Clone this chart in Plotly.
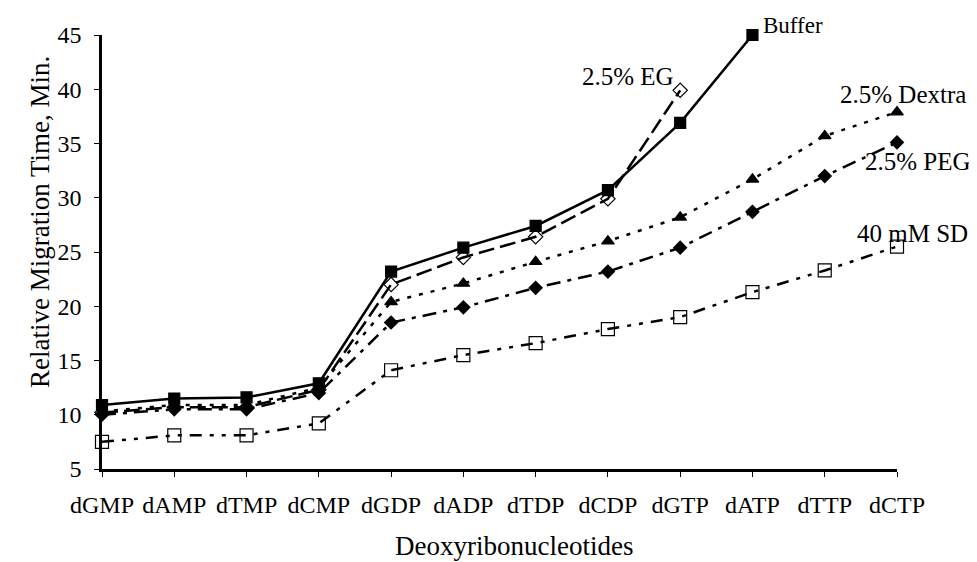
import plotly.graph_objects as go

categories = ["dGMP", "dAMP", "dTMP", "dCMP", "dGDP", "dADP", "dTDP", "dCDP",
              "dGTP", "dATP", "dTTP", "dCTP"]

buffer_vals = [10.9, 11.5, 11.6, 12.9, 23.2, 25.4, 27.4, 30.7, 36.9, 45.0]
eg_vals = [10.2, 10.7, 10.7, 12.3, 22.0, 24.5, 26.4, 29.9, 39.9]
dextra_vals = [10.3, 10.9, 10.9, 12.5, 20.4, 22.1, 24.1, 26.0, 28.2, 31.7, 35.7, 37.9]
peg_vals = [10.0, 10.5, 10.5, 12.0, 18.5, 19.9, 21.7, 23.2, 25.4, 28.7, 32.0, 35.1]
sd_vals = [7.5, 8.1, 8.1, 9.2, 14.1, 15.5, 16.6, 17.9, 19.0, 21.3, 23.3, 25.5]

FONT = "Liberation Serif, Times New Roman, serif"

# page has an 8px body margin; work in page pixels and convert
OFF = 8
W, H = 977 - OFF, 562 - OFF
L, R, T, B = 102 - OFF, 897 - OFF, 35 - OFF, 469 - OFF

fig = go.Figure()

def add(vals, dash, symbol, size, name):
    fig.add_trace(go.Scatter(
        x=categories[:len(vals)], y=vals, mode="lines+markers", name=name,
        line=dict(color="black", width=2.5, dash=dash),
        marker=dict(symbol=symbol, size=size, color="black",
                    line=dict(color="black", width=1.2)),
        cliponaxis=False,
    ))

add(sd_vals, "12px,8px,4px,8px,4px,8px", "square-open", 13, "40 mM SD")
add(peg_vals, "14px,7px,4px,7px", "diamond", 10, "2.5% PEG")
add(dextra_vals, "4px,8px", "triangle-up", 11, "2.5% Dextra")
add(eg_vals, "16px,6px", "diamond-open", 11, "2.5% EG")
add(buffer_vals, "solid", "square", 11, "Buffer")

def pxx(px):
    return (px - OFF - L) / (R - L)

def pxy(py):
    return (B - (py - OFF)) / (B - T)

labels = [
    ("Buffer", 793, 26, 23),
    ("2.5% EG", 628, 76, 25),
    ("2.5% Dextra", 903, 95, 25),
    ("2.5% PEG", 918, 161, 25),
    ("40 mM SD", 912, 234, 25),
]
for text, px, py, fs in labels:
    fig.add_annotation(x=pxx(px), y=pxy(py), xref="paper", yref="paper", text=text,
                       showarrow=False, xanchor="center", yanchor="middle", borderpad=0,
                       font=dict(family=FONT, size=fs, color="black"))

fig.add_annotation(x=pxx(40), y=pxy(222), xref="paper", yref="paper",
                   text="Relative Migration Time, Min.", textangle=-90, showarrow=False,
                   xanchor="center", yanchor="middle", borderpad=0,
                   font=dict(family=FONT, size=27, color="black"))
fig.add_annotation(x=pxx(514), y=pxy(546), xref="paper", yref="paper",
                   text="Deoxyribonucleotides", showarrow=False,
                   xanchor="center", yanchor="middle", borderpad=0,
                   font=dict(family=FONT, size=27, color="black"))

fig.update_layout(
    width=W, height=H,
    margin=dict(l=L, r=W - R, t=T, b=H - B),
    paper_bgcolor="white", plot_bgcolor="white",
    showlegend=False,
    font=dict(family=FONT, color="black"),
    xaxis=dict(type="category", categoryorder="array", categoryarray=categories,
               range=[0, 11], showgrid=False, zeroline=False,
               showline=True, linecolor="black", linewidth=2.5,
               ticks="outside", ticklen=5, tickwidth=1, tickcolor="black",
               tickfont=dict(family=FONT, size=24, color="black"),
               ticklabelstandoff=7),
    yaxis=dict(range=[5, 45], tickvals=[5, 10, 15, 20, 25, 30, 35, 40, 45],
               showgrid=False, zeroline=False,
               showline=True, linecolor="black", linewidth=2.5,
               ticks="outside", ticklen=5, tickwidth=1, tickcolor="black",
               tickfont=dict(family=FONT, size=24, color="black"),
               ticklabelstandoff=8),
)

fig.write_html("out.html")
